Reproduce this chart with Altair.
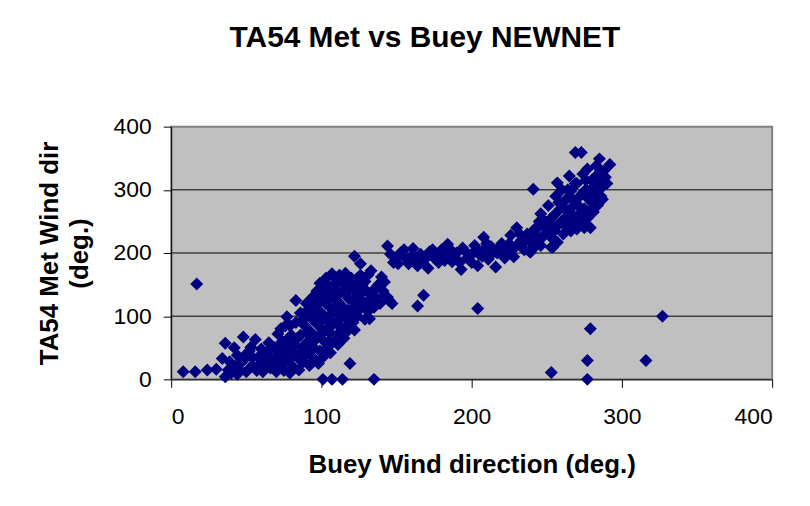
import altair as alt
import pandas as pd

# Buey wind direction (deg.) and TA54 Met wind direction (deg.)
buey_dir = [
    # low cluster
    8, 16, 24, 30, 36, 34, 36, 39, 40, 42, 44, 46, 48, 48, 50, 52, 53, 54, 56, 57,
    58, 60, 61, 62, 64, 65, 66, 68, 69, 70, 71, 72, 73, 74, 75, 76, 77, 77, 78, 79,
    80, 81, 82, 83, 83, 84, 85, 86, 86, 87, 88, 89, 90, 90, 91, 92, 92, 93, 94, 94,
    95, 96, 96, 97, 97, 98, 99, 99, 100, 100, 101, 101, 102, 103, 103, 104, 104, 105, 105, 106,
    107, 107, 108, 108, 109, 110, 110, 111, 112, 112, 113, 113, 114, 115, 116, 116, 117, 118, 118, 119,
    120, 120, 121, 122, 122, 122, 123, 124, 124, 125, 126, 126, 127, 128, 129, 130, 131, 132, 133, 133,
    135, 137, 139, 140, 142, 142, 145, 147, 164, 168, 101, 107, 114, 135, 17,
    82, 84, 86, 88, 90, 91, 93, 95, 96, 98, 99, 100, 101, 102, 103, 104, 105, 106, 106, 108,
    109, 110, 110, 111, 112, 113, 114, 115, 116, 117, 118, 119, 120, 121, 123, 124, 125, 126, 128, 129,
    130, 131, 134, 136, 138, 141, 144, 62, 66, 70, 72, 75, 78, 80, 73, 79, 67, 58, 54, 45,
    50, 42, 38, 44,
    # plateau
    144, 148, 151, 153, 156, 158, 161, 164, 166, 168, 171, 172, 175, 178, 180, 183, 184, 187, 190, 193,
    194, 197, 200, 202, 204, 205, 208, 208, 211, 213, 216, 217, 220, 222, 224, 226, 228, 230, 230, 233,
    235, 237, 239, 240, 242, 244, 246, 248, 250, 252, 253, 254,
    146, 150, 155, 160, 163, 170, 174, 177, 182, 186, 189, 192, 196, 199, 203, 207, 210, 214, 218, 221,
    225, 227, 232, 234, 238, 241, 243, 247,
    # upper cluster
    239, 241, 244, 246, 248, 249, 251, 252, 254, 255, 256, 257, 257, 258, 259, 260, 261, 262, 263, 264,
    265, 265, 266, 267, 268, 269, 270, 270, 271, 272, 273, 273, 274, 275, 276, 277, 277, 278, 279, 280,
    281, 282, 283, 284, 285, 285, 286, 287, 288, 290, 292,
    245, 250, 253, 255, 258, 260, 262, 264, 266, 267, 268, 269, 271, 272, 274, 275, 276, 278, 279, 280,
    282, 283, 284, 286, 287, 289,
    # scattered
    204, 253, 277, 277, 279, 316, 327,
]
met_dir = [
    12, 12, 15, 16, 4, 33, 57, 28, 10, 20, 38, 14, 67, 30, 12, 45, 51, 22, 63, 14,
    35, 48, 12, 25, 40, 58, 18, 30, 50, 12, 72, 40, 22, 60, 14, 85, 99, 48, 30, 10,
    70, 20, 55, 125, 90, 38, 15, 105, 70, 50, 28, 85, 120, 40, 60, 100, 22, 75, 130, 35,
    50, 115, 90, 140, 65, 25, 152, 45, 105, 80, 130, 35, 60, 160, 95, 118, 50, 140, 75, 42,
    167, 105, 88, 60, 150, 125, 70, 55, 165, 100, 138, 82, 115, 65, 168, 150, 95, 128, 78, 25,
    160, 110, 90, 195, 140, 78, 120, 160, 100, 135, 183, 112, 150, 122, 95, 140, 108, 96, 172, 128,
    114, 145, 120, 162, 154, 133, 125, 120, 116, 133, 0, 0, 0, 0, 151,
    40, 65, 30, 95, 75, 110, 50, 100, 30, 120, 70, 140, 95, 45, 120, 150, 60, 130, 85, 110,
    160, 140, 90, 70, 120, 155, 100, 80, 135, 160, 110, 145, 95, 125, 150, 130, 110, 165, 140, 155,
    120, 165, 140, 130, 150, 140, 130, 38, 48, 30, 55, 35, 65, 45, 80, 85, 22, 22, 35, 25,
    40, 50, 15, 8,
    211, 185, 183, 201, 192, 183, 207, 180, 198, 188, 176, 202, 192, 185, 205, 196, 214, 186, 200, 174,
    208, 192, 185, 212, 180, 198, 225, 205, 190, 210, 178, 200, 215, 192, 205, 228, 194, 240, 212, 220,
    205, 230, 201, 215, 238, 225, 212, 245, 232, 248, 209, 222,
    198, 193, 205, 195, 190, 195, 205, 195, 188, 205, 192, 185, 202, 195, 205, 195, 215, 200, 208, 198,
    215, 205, 230, 215, 222, 228, 212, 225,
    204, 301, 240, 262, 228, 250, 275, 238, 209, 260, 290, 217, 311, 245, 270, 300, 230, 255, 285, 240,
    322, 265, 298, 250, 275, 359, 238, 310, 260, 290, 359, 245, 325, 270, 300, 333, 255, 285, 240, 315,
    265, 300, 338, 276, 349, 320, 290, 305, 330, 310, 340,
    250, 238, 255, 235, 280, 250, 270, 300, 235, 285, 255, 310, 275, 250, 295, 240, 315, 265, 300, 280,
    320, 290, 310, 330, 285, 320,
    112, 11, 0, 30, 80, 30, 100,
]
grid_values = [100, 200, 300]
tick_values = [0, 100, 200, 300, 400]

df = pd.DataFrame({"buey": buey_dir, "met": met_dir})
grid_df = pd.DataFrame({"met": grid_values})

FONT = "Liberation Sans"

x_scale = alt.Scale(domain=[0, 400], nice=False, zero=False)
y_scale = alt.Scale(domain=[0, 400], nice=False, zero=False)

y_axis = alt.Axis(
    values=tick_values,
    title=["TA54 Met Wind dir", "(deg.)"],
    grid=False,
    titlePadding=21,
    titleLineHeight=30,
)
x_axis = alt.Axis(
    values=tick_values,
    title="Buey Wind direction (deg.)",
    grid=False,
    titlePadding=24,
)

grid = alt.Chart(grid_df).mark_rule(color="black", strokeWidth=1).encode(
    y=alt.Y("met:Q", scale=y_scale, axis=y_axis)
)

points = alt.Chart(df).mark_point(
    shape="diamond", filled=True, color="#000080", size=170, opacity=1, strokeWidth=0
).encode(
    x=alt.X("buey:Q", scale=x_scale, axis=x_axis),
    y=alt.Y("met:Q", scale=y_scale, axis=y_axis),
)

chart = (
    alt.layer(grid, points)
    .properties(
        width=604,
        height=254,
        background="white",
        padding={"left": 164, "top": 118, "right": 30, "bottom": 120},
        autosize=alt.AutoSizeParams(type="none"),
        title=alt.TitleParams(
            "TA54 Met vs Buey NEWNET",
            fontSize=30,
            font=FONT,
            fontWeight="bold",
            color="black",
            offset=63,
            dx=-47,
            anchor="middle",
        ),
    )
    .configure_view(fill="#C0C0C0", stroke="#808080", strokeWidth=2)
    .configure_axis(
        domainColor="black",
        domainWidth=1,
        tickColor="black",
        tickSize=8,
        labelFont=FONT,
        labelFontSize=23,
        labelColor="black",
        titleFont=FONT,
        titleFontSize=26,
        titleFontWeight="bold",
        titleColor="black",
    )
    .configure_axisX(labelPadding=18)
    .configure_axisY(labelPadding=12)
)

chart.save("out.html", embed_options={"renderer": "svg", "actions": False})
